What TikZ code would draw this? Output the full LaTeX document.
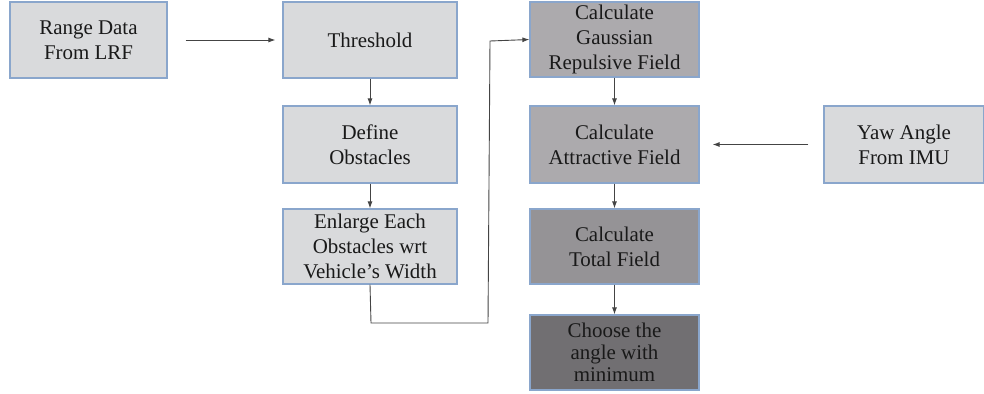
\documentclass[tikz,border=0pt]{standalone}
\usepackage{fontspec}
\setmainfont{Liberation Serif}
\usetikzlibrary{arrows.meta}
\definecolor{lightbox}{HTML}{D9DADC}
\definecolor{midbox}{HTML}{ACAAAD}
\definecolor{totbox}{HTML}{959396}
\definecolor{darkbox}{HTML}{716F72}
\definecolor{edge}{HTML}{8AA6CC}
\definecolor{conn}{HTML}{444444}
\begin{document}
\begin{tikzpicture}[x=1bp,y=-1bp,
  blk/.style={draw=edge, line width=1.2bp, inner sep=0pt, align=center,
    text=black!90, font=\rmfamily\fontsize{21}{25}\selectfont},
  conline/.style={draw=conn, line width=0.9bp},
  arr/.style={conline, -{Latex[length=7bp,width=5bp]}}]
\useasboundingbox (0,0) rectangle (984,393);
\node[blk, fill=lightbox, minimum width=157bp, minimum height=76bp] (range) at (88.5,40) {Range Data\\From LRF};
\node[blk, fill=lightbox, minimum width=174bp, minimum height=76bp] (thr) at (370,40) {\raisebox{-4bp}{Threshold}};
\node[blk, fill=lightbox, minimum width=174bp, minimum height=77bp] (def) at (370,144.5) {Define\\Obstacles};
\node[blk, fill=lightbox, minimum width=174bp, minimum height=75bp] (enl) at (370,246.5) {Enlarge Each\\Obstacles wrt\\Vehicle's Width};
\node[blk, fill=midbox, minimum width=169bp, minimum height=75bp] (gau) at (614.5,39.5) {Calculate\\Gaussian\\Repulsive Field};
\node[blk, fill=midbox, minimum width=169bp, minimum height=77bp] (att) at (614.5,144.5) {Calculate\\Attractive Field};
\node[blk, fill=totbox, minimum width=169bp, minimum height=75bp] (tot) at (614.5,246.5) {Calculate\\Total Field};
\node[blk, fill=darkbox, minimum width=169bp, minimum height=75bp, font=\rmfamily\fontsize{21}{22}\selectfont] (cho) at (614.5,352.5) {Choose the\\angle with\\minimum};
\node[blk, fill=lightbox, minimum width=160bp, minimum height=77bp] (yaw) at (904,144.5) {Yaw Angle\\From IMU};
\coordinate (c1) at (371,323);
\coordinate (c2) at (488,323);
\coordinate (c3) at (490,41);
\draw[arr] ([xshift=18bp]range.east) -- ([xshift=-7bp]thr.west);
\draw[arr] (thr.south) -- (def.north);
\draw[arr] (def.south) -- (enl.north);
\draw[arr] (enl.south) -- (c1) -- (c2) -- (c3) -- (gau.west);
\draw[arr] (gau.south) -- (att.north);
\draw[arr] (att.south) -- (tot.north);
\draw[arr] (tot.south) -- (cho.north);
\draw[arr] ([xshift=-15bp]yaw.west) -- ([xshift=13bp]att.east);
\end{tikzpicture}
\end{document}
